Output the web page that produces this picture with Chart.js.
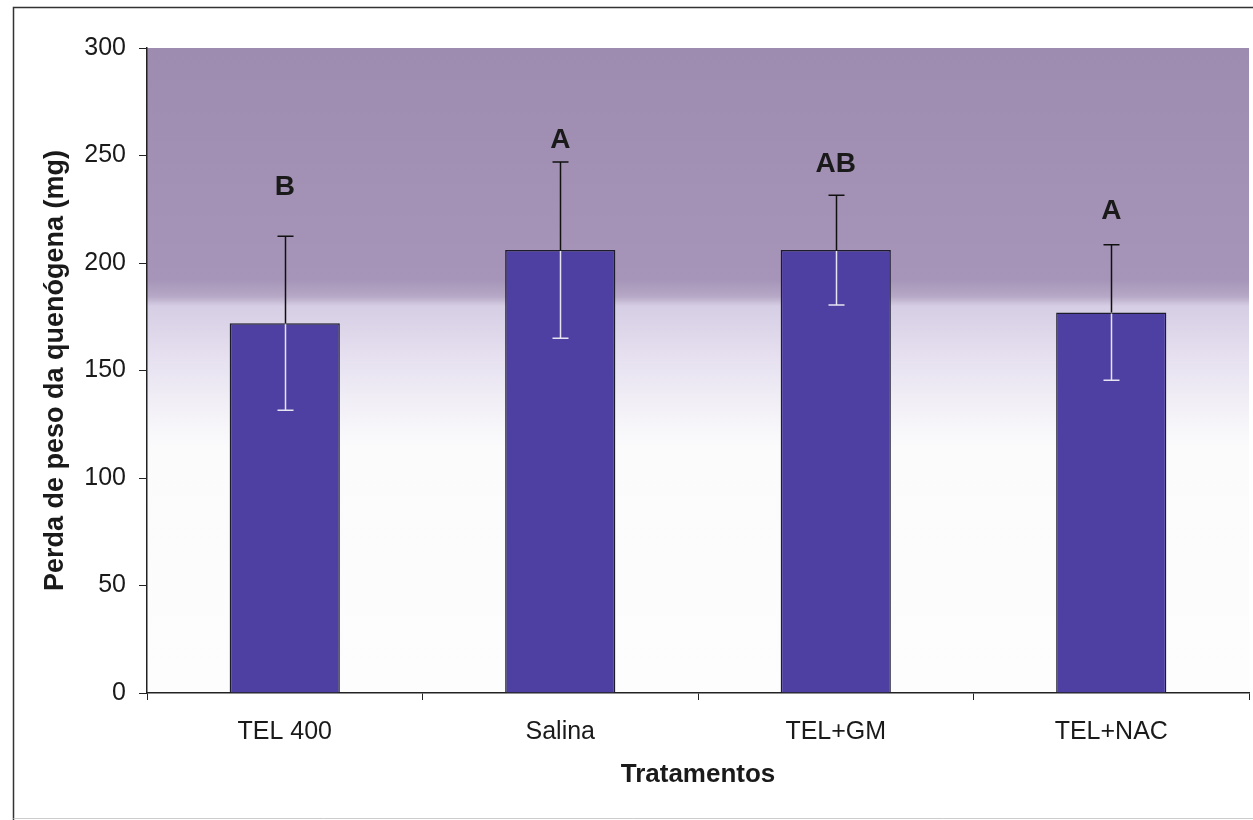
<!DOCTYPE html>
<html>
<head>
<meta charset="utf-8">
<title>Perda de peso da quenógena</title>
<script src="https://cdn.jsdelivr.net/npm/chart.js@4/dist/chart.umd.min.js"></script>
<style>
  html, body { margin: 0; padding: 0; background: #fff; }
  #grafico { display: block; }
</style>
</head>
<body>
<canvas id="grafico" width="1253" height="820"></canvas>
<script>
const tratamentos = ['TEL 400', 'Salina', 'TEL+GM', 'TEL+NAC'];
const perdaMedia = [172, 206, 206, 177];
const desvio = [40.5, 41, 25.5, 31.5];
const letras = ['B', 'A', 'AB', 'A'];
const posLetras = [235, 257, 246, 224];
const marcasY = [0, 50, 100, 150, 200, 250, 300];

const corBarra = 'rgb(78,64,163)';
const fonte = 'Arial, "Liberation Sans", sans-serif';

// plot area background, dark at the top and fading out towards the base
const fundoPlugin = {
    id: 'fundo',
    beforeDraw(chart) {
        const {ctx, chartArea: a} = chart;
        const g = ctx.createLinearGradient(0, a.top, 0, a.bottom);
        g.addColorStop(0, 'rgb(158,140,176)');
        g.addColorStop(0.36, 'rgb(166,149,184)');
        g.addColorStop(0.385, 'rgb(182,168,198)');
        g.addColorStop(0.40, 'rgb(214,206,228)');
        g.addColorStop(0.48, 'rgb(230,224,240)');
        g.addColorStop(0.56, 'rgb(243,241,247)');
        g.addColorStop(0.62, 'rgb(251,251,252)');
        g.addColorStop(1, 'rgb(253,253,253)');
        ctx.save();
        ctx.fillStyle = g;
        ctx.fillRect(a.left, a.top, a.right - a.left, a.bottom - a.top);
        ctx.restore();
    },
    afterDraw(chart) {
        // outer frame round the figure
        const ctx = chart.ctx;
        ctx.save();
        ctx.strokeStyle = '#333';
        ctx.lineWidth = 1.5;
        ctx.beginPath();
        ctx.moveTo(13.5, 830);
        ctx.lineTo(13.5, 7.5);
        ctx.lineTo(1260, 7.5);
        ctx.stroke();
        ctx.strokeStyle = '#ccc';
        ctx.lineWidth = 1;
        ctx.beginPath();
        ctx.moveTo(13.5, 818.5);
        ctx.lineTo(1260, 818.5);
        ctx.stroke();
        ctx.restore();
    }
};

// error bars (+/- desvio) and the significance letters above each bar
const erroPlugin = {
    id: 'erro',
    afterDatasetsDraw(chart) {
        const {ctx, scales: {x, y}} = chart;
        const meta = chart.getDatasetMeta(0);
        ctx.save();
        meta.data.forEach((bar, i) => {
            const cx = Math.round(bar.x) + 0.5;
            const yTopo = y.getPixelForValue(perdaMedia[i] + desvio[i]);
            const yBase = y.getPixelForValue(perdaMedia[i] - desvio[i]);
            const yBarra = y.getPixelForValue(perdaMedia[i]);
            const cap = 8;
            ctx.lineWidth = 1.5;
            // part above the bar
            ctx.strokeStyle = '#111';
            ctx.beginPath();
            ctx.moveTo(cx, yBarra);
            ctx.lineTo(cx, yTopo);
            ctx.moveTo(cx - cap, yTopo);
            ctx.lineTo(cx + cap, yTopo);
            ctx.stroke();
            // part inside the bar
            ctx.strokeStyle = '#e6e4f0';
            ctx.beginPath();
            ctx.moveTo(cx, yBarra + 1);
            ctx.lineTo(cx, yBase);
            ctx.moveTo(cx - cap, yBase);
            ctx.lineTo(cx + cap, yBase);
            ctx.stroke();

            ctx.fillStyle = '#1a1a1a';
            ctx.font = 'bold 28px ' + fonte;
            ctx.textAlign = 'center';
            ctx.textBaseline = 'middle';
            ctx.fillText(letras[i], x.getPixelForValue(i), y.getPixelForValue(posLetras[i]));
        });
        ctx.restore();
    }
};

new Chart('grafico', {
    type: 'bar',
    data: {
        labels: tratamentos,
        datasets: [{
            data: perdaMedia,
            backgroundColor: corBarra,
            borderColor: '#1c1c2c',
            borderWidth: 1.5,
            barPercentage: 0.4,
            categoryPercentage: 1.0
        }]
    },
    options: {
        responsive: false,
        animation: false,
        devicePixelRatio: 1,
        layout: { padding: { left: 35, right: 4, top: 48, bottom: 26 } },
        plugins: {
            legend: { display: false },
            tooltip: { enabled: false }
        },
        scales: {
            x: {
                grid: {
                    offset: true,
                    drawOnChartArea: false,
                    drawTicks: true,
                    tickLength: 7,
                    color: '#222'
                },
                border: { display: true, color: '#222', width: 1.5 },
                ticks: {
                    color: '#1a1a1a',
                    padding: 17,
                    font: { family: fonte, size: 25 }
                },
                title: {
                    display: true,
                    text: 'Tratamentos',
                    color: '#1a1a1a',
                    padding: { top: 4, bottom: 4 },
                    font: { family: fonte, size: 26, weight: 'bold' }
                },
                afterFit(scale) { scale.height = 101; }
            },
            y: {
                min: 0,
                max: 300,
                afterBuildTicks(scale) {
                    scale.ticks = marcasY.map((v) => ({ value: v }));
                },
                grid: {
                    drawOnChartArea: false,
                    drawTicks: true,
                    tickLength: 8,
                    color: '#222'
                },
                border: { display: true, color: '#222', width: 1.5 },
                ticks: {
                    color: '#1a1a1a',
                    padding: 13,
                    font: { family: fonte, size: 25 }
                },
                title: {
                    display: true,
                    text: 'Perda de peso da quenógena (mg)',
                    color: '#1a1a1a',
                    padding: { top: 4, bottom: 4 },
                    font: { family: fonte, size: 27, weight: 'bold' }
                },
                afterFit(scale) { scale.width = 112; }
            }
        }
    },
    plugins: [fundoPlugin, erroPlugin]
});
</script>
</body>
</html>
